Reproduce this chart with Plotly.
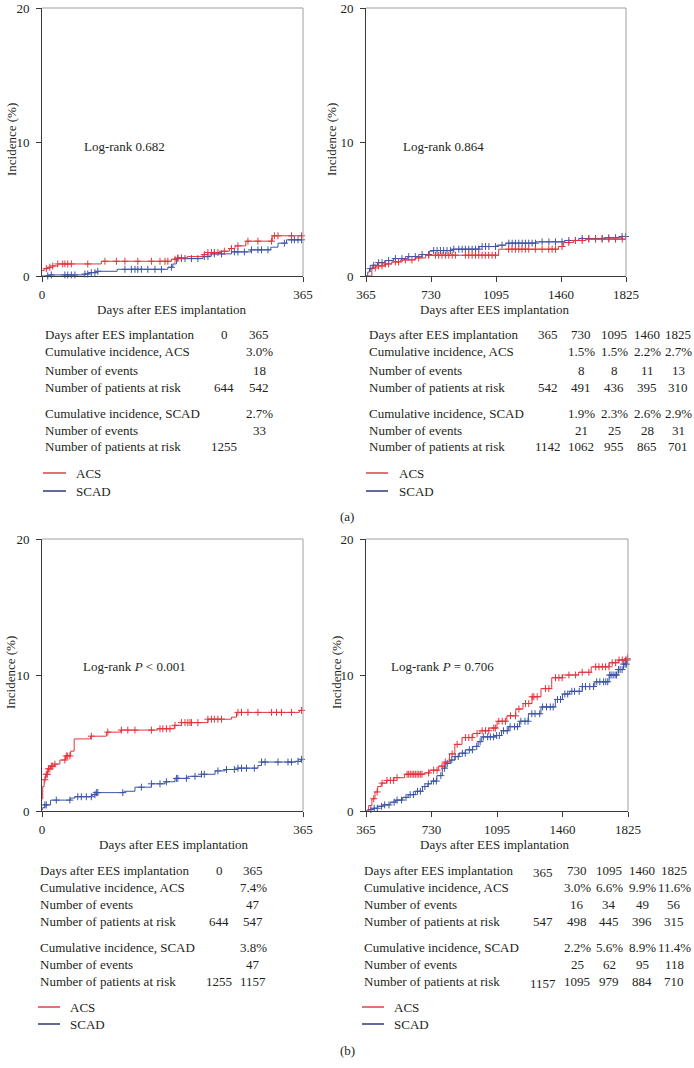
import numpy as np
import plotly.graph_objects as go

W, H = 694, 1068
RED = "#e3343e"
BLUE = "#3d55a6"
LEG_RED = "#d9434b"
LEG_BLUE = "#2c3a78"
TXT = "#231f20"
FONT = "Liberation Serif"
FS = 13

# ---------------- curve data (days, cumulative incidence %) ----------------
a1_acs_t = [0, 3, 8, 15, 22, 83, 181, 190, 203, 225, 232, 248, 262, 270, 285, 322, 365]
a1_acs_y = [0.4, 0.55, 0.65, 0.75, 0.9, 1.1, 1.25, 1.35, 1.45, 1.6, 1.75, 1.85, 2.05, 2.25, 2.6, 3.0, 3.0]
a1_acs_c = [6, 11, 15, 22, 29, 32, 36, 41, 64, 88, 104, 116, 134, 153, 165, 172, 176, 186, 190, 195,
            227, 232, 237, 241, 246, 255, 265, 274, 288, 302, 321, 325, 330, 349, 363]

a1_scad_t = [0, 10, 60, 66, 76, 105, 176, 183, 188, 225, 235, 265, 292, 320, 330, 342, 365]
a1_scad_y = [0.0, 0.08, 0.15, 0.25, 0.35, 0.5, 0.65, 0.9, 1.3, 1.45, 1.65, 1.8, 1.95, 2.15, 2.45, 2.7, 2.7]
a1_scad_c = [8, 13, 32, 36, 41, 46, 60, 64, 69, 74, 78, 116, 125, 130, 134, 139, 148, 158, 167, 181,
             190, 195, 200, 209, 218, 227, 232, 241, 251, 269, 274, 283, 293, 302, 307, 316, 339, 349,
             353, 358, 363]

a2_acs_t = [365, 398, 420, 470, 510, 560, 640, 700, 1110, 1445, 1475, 1530, 1600, 1825]
a2_acs_y = [0, 0.6, 0.75, 0.9, 1.05, 1.2, 1.35, 1.55, 2.0, 2.2, 2.5, 2.65, 2.75, 2.75]
a2_acs_c = [417, 436, 455, 474, 492, 530, 548, 586, 623, 661, 717, 755, 773, 792, 811, 830, 849, 867,
            923, 942, 961, 980, 998, 1017, 1035, 1054, 1073, 1092, 1166, 1185, 1204, 1223, 1241,
            1260, 1279, 1316, 1354, 1391, 1410, 1429, 1466, 1504, 1541, 1579, 1616, 1654, 1691,
            1729, 1766, 1804]

a2_scad_t = [365, 375, 385, 400, 430, 470, 520, 600, 680, 720, 740, 850, 1000, 1100, 1150, 1320, 1480,
             1560, 1700, 1800, 1825]
a2_scad_y = [0, 0.3, 0.55, 0.8, 1.0, 1.15, 1.3, 1.45, 1.6, 1.85, 1.9, 2.0, 2.2, 2.3, 2.45, 2.55, 2.65,
             2.8, 2.85, 2.95, 2.95]
a2_scad_c = [389, 408, 436, 455, 492, 530, 567, 605, 642, 680, 717, 745, 764, 783, 801, 820, 839, 858,
             886, 905, 923, 942, 961, 980, 998, 1017, 1036, 1055, 1092, 1129, 1167, 1186, 1204, 1223,
             1242, 1260, 1279, 1298, 1317, 1354, 1392, 1429, 1466, 1504, 1541, 1579, 1616, 1654,
             1691, 1728, 1766, 1803, 1822]

b1_acs_t = [0, 1, 3, 5, 8, 12, 18, 25, 33, 40, 45, 68, 90, 110, 162, 185, 195, 232, 265, 272, 360, 365]
b1_acs_y = [0.9, 1.8, 2.3, 2.7, 3.1, 3.3, 3.45, 3.75, 4.05, 4.4, 5.3, 5.5, 5.8, 5.95, 6.05, 6.3, 6.5,
            6.75, 6.9, 7.25, 7.4, 7.4]
b1_acs_c = [4, 6, 7.5, 9, 11, 13, 15, 18, 32, 34, 36, 39, 69, 92, 111, 120, 130, 153, 165, 169, 174,
            179, 186, 195, 200, 204, 207, 209, 218, 232, 237, 241, 246, 251, 274, 279, 288, 302, 321,
            328, 335, 349, 363]

b1_scad_t = [0, 1, 4, 12, 40, 46, 70, 76, 115, 130, 153, 172, 186, 204, 223, 242, 256, 274, 302, 307,
             355, 362, 365]
b1_scad_y = [0.1, 0.25, 0.45, 0.8, 0.95, 1.05, 1.2, 1.35, 1.45, 1.75, 2.0, 2.15, 2.4, 2.55, 2.7, 2.95,
             3.05, 3.15, 3.35, 3.6, 3.65, 3.8, 3.8]
b1_scad_c = [4, 6, 20, 39, 50, 55, 62, 69, 74, 76, 78, 113, 139, 153, 165, 174, 188, 190, 202, 214,
             223, 227, 246, 258, 269, 274, 279, 286, 297, 307, 312, 330, 344, 349, 358, 363]

b2_acs_t = [365, 380, 398, 415, 430, 450, 480, 520, 580, 690, 720, 770, 800, 830, 860, 900, 960, 1000,
            1050, 1095, 1150, 1200, 1240, 1290, 1340, 1400, 1460, 1550, 1620, 1720, 1770, 1815, 1825]
b2_acs_y = [0, 0.4, 0.9, 1.4, 1.8, 2.05, 2.25, 2.45, 2.7, 2.8, 3.0, 3.3, 3.6, 4.2, 4.9, 5.4, 5.7, 5.9,
            6.1, 6.6, 7.0, 7.5, 7.9, 8.4, 9.0, 9.8, 10.0, 10.2, 10.6, 10.9, 11.1, 11.2, 11.6]
b2_acs_c = [408, 427, 455, 482, 501, 519, 538, 594, 603, 612, 622, 631, 640, 650, 659, 668, 677, 714,
            742, 761, 789, 807, 845, 873, 919, 938, 956, 984, 1012, 1031, 1049, 1077, 1086, 1105,
            1124, 1142, 1170, 1198, 1217, 1254, 1272, 1291, 1300, 1319, 1365, 1384, 1421, 1440, 1458,
            1496, 1533, 1570, 1607, 1645, 1663, 1682, 1700, 1719, 1737, 1756, 1775, 1793, 1812, 1821]

b2_scad_t = [365, 380, 400, 430, 460, 500, 530, 570, 600, 640, 680, 710, 730, 760, 790, 810, 835, 860,
             885, 920, 960, 990, 1010, 1090, 1120, 1160, 1220, 1270, 1340, 1420, 1460, 1500, 1570,
             1640, 1720, 1770, 1800, 1820, 1825]
b2_scad_y = [0, 0.1, 0.2, 0.35, 0.45, 0.65, 0.8, 1.0, 1.2, 1.45, 1.8, 2.0, 2.2, 2.6, 3.15, 3.5, 3.75,
             4.0, 4.25, 4.5, 4.75, 5.1, 5.45, 5.55, 5.9, 6.2, 6.6, 7.15, 7.65, 8.2, 8.6, 8.8, 9.15,
             9.5, 10.0, 10.4, 10.8, 11.1, 11.4]
b2_scad_c = [392, 411, 428, 452, 469, 493, 522, 538, 563, 588, 611, 629, 652, 668, 693, 712, 741, 757,
             782, 803, 818, 843, 862, 879, 902, 918, 941, 958, 982, 1001, 1019, 1043, 1058, 1076, 1093,
             1108, 1131, 1152, 1168, 1193, 1209, 1228, 1251, 1268, 1289, 1307, 1333, 1349, 1371, 1392,
             1408, 1432, 1449, 1473, 1489, 1512, 1527, 1553, 1571, 1588, 1612, 1633, 1651, 1668, 1689,
             1701, 1712, 1723, 1731, 1742, 1753, 1761, 1772, 1781, 1792, 1801, 1809, 1816, 1821]

# ---------------- tick labels ----------------
y_ticks = [0, 10, 20]
x_ticks_first = [0, 365]
x_ticks_late = [365, 730, 1095, 1460, 1825]

# ---------------- at-risk tables ----------------
row_labels = ["Days after EES implantation", "Cumulative incidence, ACS", "Number of events",
              "Number of patients at risk", "Cumulative incidence, SCAD", "Number of events",
              "Number of patients at risk"]

a1_days = ["0", "365"]
a1_acs_inc = ["", "3.0%"]
a1_acs_ev = ["", "18"]
a1_acs_risk = ["644", "542"]
a1_scad_inc = ["", "2.7%"]
a1_scad_ev = ["", "33"]
a1_scad_risk = ["1255", ""]

a2_days = ["365", "730", "1095", "1460", "1825"]
a2_acs_inc = ["", "1.5%", "1.5%", "2.2%", "2.7%"]
a2_acs_ev = ["", "8", "8", "11", "13"]
a2_acs_risk = ["542", "491", "436", "395", "310"]
a2_scad_inc = ["", "1.9%", "2.3%", "2.6%", "2.9%"]
a2_scad_ev = ["", "21", "25", "28", "31"]
a2_scad_risk = ["1142", "1062", "955", "865", "701"]

b1_days = ["0", "365"]
b1_acs_inc = ["", "7.4%"]
b1_acs_ev = ["", "47"]
b1_acs_risk = ["644", "547"]
b1_scad_inc = ["", "3.8%"]
b1_scad_ev = ["", "47"]
b1_scad_risk = ["1255", "1157"]

b2_days = ["365", "730", "1095", "1460", "1825"]
b2_acs_inc = ["", "3.0%", "6.6%", "9.9%", "11.6%"]
b2_acs_ev = ["", "16", "34", "49", "56"]
b2_acs_risk = ["547", "498", "445", "396", "315"]
b2_scad_inc = ["", "2.2%", "5.6%", "8.9%", "11.4%"]
b2_scad_ev = ["", "25", "62", "95", "118"]
b2_scad_risk = ["1157", "1095", "979", "884", "710"]

logrank_texts = ["Log-rank 0.682", "Log-rank 0.864",
                 "Log-rank <i>P</i> &lt; 0.001", "Log-rank <i>P</i> = 0.706"]

# ---------------- helpers ----------------
def px(x):
    return x / W


def py(y):
    return 1 - y / H


def step_at(t, y, c):
    t = np.asarray(t, float)
    y = np.asarray(y, float)
    idx = np.searchsorted(t, np.asarray(c, float), side="right") - 1
    idx = np.clip(idx, 0, len(y) - 1)
    return y[idx]


fig = go.Figure()
annotations = []
shapes = []

panels = [
    dict(n="", xdom=(42, 303), ydom=(8, 276), xr=[0, 365], xt=x_ticks_first,
         acs=(a1_acs_t, a1_acs_y, a1_acs_c), scad=(a1_scad_t, a1_scad_y, a1_scad_c),
         ylab_x=11, ylab_y=140, lr=(82, 146), xt_y=309, xt_x=172,
         tab_x=43, tab_rows=[335, 352, 370, 387, 413, 430, 447], cols=[224, 259],
         rows=[a1_days, a1_acs_inc, a1_acs_ev, a1_acs_risk, a1_scad_inc, a1_scad_ev, a1_scad_risk],
         leg=(43, 66, 74, 473, 491), low_first=False),
    dict(n="2", xdom=(366, 626), ydom=(8, 276), xr=[365, 1825], xt=x_ticks_late,
         acs=(a2_acs_t, a2_acs_y, a2_acs_c), scad=(a2_scad_t, a2_scad_y, a2_scad_c),
         ylab_x=331, ylab_y=140, lr=(401, 146), xt_y=309, xt_x=495,
         tab_x=367, tab_rows=[335, 352, 370, 387, 413, 430, 447], cols=[548, 581, 614, 647, 678],
         rows=[a2_days, a2_acs_inc, a2_acs_ev, a2_acs_risk, a2_scad_inc, a2_scad_ev, a2_scad_risk],
         leg=(366, 388, 397, 473, 491), low_first=False),
    dict(n="3", xdom=(42, 303), ydom=(539, 811), xr=[0, 365], xt=x_ticks_first,
         acs=(b1_acs_t, b1_acs_y, b1_acs_c), scad=(b1_scad_t, b1_scad_y, b1_scad_c),
         ylab_x=10, ylab_y=673, lr=(81, 666), xt_y=844, xt_x=174,
         tab_x=38, tab_rows=[870, 887, 904, 921, 947, 964, 981], cols=[219, 253],
         rows=[b1_days, b1_acs_inc, b1_acs_ev, b1_acs_risk, b1_scad_inc, b1_scad_ev, b1_scad_risk],
         leg=(38, 60, 68, 1007, 1024), low_first=False),
    dict(n="4", xdom=(366, 628), ydom=(539, 811), xr=[365, 1825], xt=x_ticks_late,
         acs=(b2_acs_t, b2_acs_y, b2_acs_c), scad=(b2_scad_t, b2_scad_y, b2_scad_c),
         ylab_x=336, ylab_y=673, lr=(389, 666), xt_y=844, xt_x=495,
         tab_x=362, tab_rows=[870, 887, 904, 921, 947, 964, 981], cols=[543, 577, 609, 642, 674],
         rows=[b2_days, b2_acs_inc, b2_acs_ev, b2_acs_risk, b2_scad_inc, b2_scad_ev, b2_scad_risk],
         leg=(362, 384, 392, 1007, 1024), low_first=True),
]

layout_axes = {}
for i, p in enumerate(panels):
    xa = "x" + p["n"]
    ya = "y" + p["n"]
    for (t, y, c), col in ((p["scad"], BLUE), (p["acs"], RED)):
        fig.add_trace(go.Scatter(x=t, y=y, mode="lines", line=dict(color=col, width=1, shape="hv"),
                                 xaxis=xa, yaxis=ya, showlegend=False, hoverinfo="skip"))
        fig.add_trace(go.Scatter(x=c, y=step_at(t, y, c), mode="markers",
                                 marker=dict(symbol="cross-thin", size=5,
                                             line=dict(color=col, width=1)),
                                 xaxis=xa, yaxis=ya, showlegend=False, hoverinfo="skip",
                                 cliponaxis=False))
    axstyle = dict(showline=True, linecolor="#3a3a3a", linewidth=1, ticks="outside", ticklen=5,
                   tickcolor="#3a3a3a", tickwidth=1, showgrid=False, zeroline=False,
                   automargin=False,
                   tickfont=dict(family=FONT, size=FS, color=TXT))
    layout_axes["xaxis" + p["n"]] = dict(axstyle, domain=[px(p["xdom"][0]), px(p["xdom"][1])],
                                         range=p["xr"], tickvals=p["xt"], anchor=ya,
                                         ticklabelstandoff=1)
    layout_axes["yaxis" + p["n"]] = dict(axstyle, domain=[py(p["ydom"][1]), py(p["ydom"][0])],
                                         range=[0, 20], tickvals=y_ticks, anchor=xa,
                                         ticklabelstandoff=4)
    # top and right frame lines (grey)
    shapes.append(dict(type="line", xref=xa + " domain", yref=ya + " domain", x0=0, x1=1, y0=1, y1=1,
                       line=dict(color="#a0a0a0", width=1)))
    shapes.append(dict(type="line", xref=xa + " domain", yref=ya + " domain", x0=1, x1=1, y0=0, y1=1,
                       line=dict(color="#a0a0a0", width=1)))
    # y title
    annotations.append(dict(text="Incidence (%)", textangle=-90, x=px(p["ylab_x"]), y=py(p["ylab_y"]),
                            xref="paper", yref="paper", showarrow=False, xanchor="center",
                            yanchor="middle", font=dict(family=FONT, size=FS, color=TXT)))
    # x title
    annotations.append(dict(text="Days after EES implantation", x=px(p["xt_x"]), y=py(p["xt_y"]),
                            xref="paper", yref="paper", showarrow=False, xanchor="center",
                            yanchor="middle", font=dict(family=FONT, size=FS, color=TXT)))
    # log-rank
    annotations.append(dict(text=logrank_texts[i], x=px(p["lr"][0]), y=py(p["lr"][1]),
                            xref="paper", yref="paper", showarrow=False, xanchor="left",
                            yanchor="middle", font=dict(family=FONT, size=FS, color=TXT)))
    # table
    for r, (lab, ry) in enumerate(zip(row_labels, p["tab_rows"])):
        annotations.append(dict(text=lab, x=px(p["tab_x"]), y=py(ry), xref="paper", yref="paper",
                                showarrow=False, xanchor="left", yanchor="middle",
                                font=dict(family=FONT, size=FS, color=TXT)))
        for k, (val, cx) in enumerate(zip(p["rows"][r], p["cols"])):
            if not val:
                continue
            dy = 2 if (p["low_first"] and k == 0 and r in (0, 6)) else 0
            annotations.append(dict(text=val, x=px(cx), y=py(ry + dy), xref="paper", yref="paper",
                                    showarrow=False, xanchor="center", yanchor="middle",
                                    font=dict(family=FONT, size=FS, color=TXT)))
    # legend
    lx0, lx1, ltx, ly1, ly2 = p["leg"]
    for name, col, ly in (("ACS", LEG_RED, ly1), ("SCAD", LEG_BLUE, ly2)):
        shapes.append(dict(type="line", xref="paper", yref="paper", x0=px(lx0), x1=px(lx1),
                           y0=py(ly), y1=py(ly), line=dict(color=col, width=1.5)))
        annotations.append(dict(text=name, x=px(ltx), y=py(ly), xref="paper", yref="paper",
                                showarrow=False, xanchor="left", yanchor="middle",
                                font=dict(family=FONT, size=FS, color=TXT)))

for lab, yy in (("(a)", 516), ("(b)", 1050)):
    annotations.append(dict(text=lab, x=px(347), y=py(yy), xref="paper", yref="paper",
                            showarrow=False, xanchor="center", yanchor="middle",
                            font=dict(family=FONT, size=FS, color=TXT)))

fig.update_layout(width=W, height=H, margin=dict(l=0, r=0, t=0, b=0, pad=0, autoexpand=False),
                  paper_bgcolor="white", plot_bgcolor="white", showlegend=False,
                  annotations=annotations, shapes=shapes, **layout_axes)

fig.write_html("out.html", config={"displayModeBar": False, "staticPlot": True},
               post_script="document.body.style.margin='0px';document.body.style.overflow='hidden';")
